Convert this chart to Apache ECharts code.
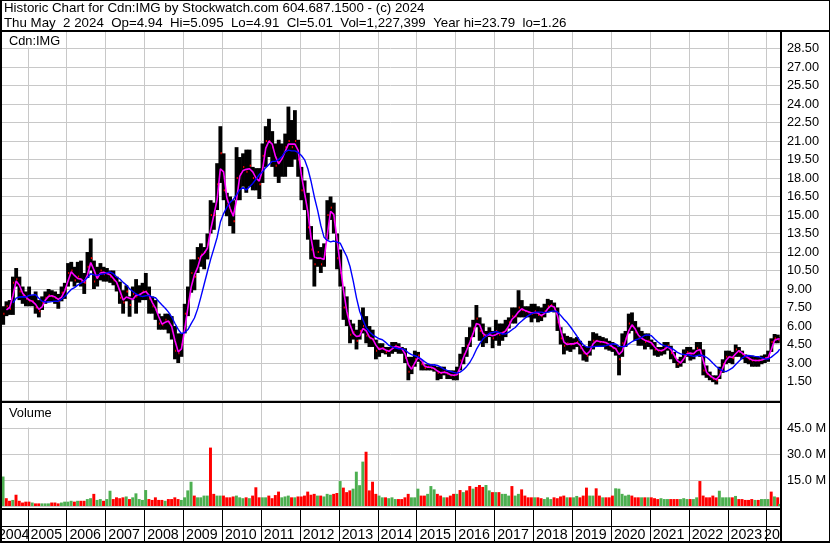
<!DOCTYPE html>
<html><head><meta charset="utf-8">
<script src="https://cdn.jsdelivr.net/npm/echarts@6/dist/echarts.min.js"></script>
<style>html,body{margin:0;padding:0;background:#fff}#c{width:830px;height:543px}</style>
</head><body><div id="c"></div>
<script>
// ---- data (monthly, May 2004 .. May 2 2024) ----
const startYear = 2004, startMonth = 5, lastDay = 2;
const years = [2004,2005,2006,2007,2008,2009,2010,2011,2012,2013,2014,2015,2016,2017,2018,2019,2020,2021,2022,2023,2024];
const high = [
 7.6,8.0,8.1,10.0,10.7,10.0,9.2,8.8,
 9.2,8.5,8.8,8.1,8.4,8.8,9.0,8.9,8.8,8.6,9.2,9.5,
 11.1,11.2,10.8,11.2,11.3,10.3,12.0,13.1,11.3,10.8,11.1,10.8,
 10.7,10.5,10.5,10.0,9.6,8.9,9.3,8.4,9.2,9.8,9.3,9.5,
 10.3,9.2,8.4,8.1,7.0,6.8,7.0,7.0,6.8,6.0,5.4,5.4,
 7.8,9.2,11.4,11.4,12.4,12.7,12.4,13.5,16.2,16.0,19.2,22.2,
 20.0,16.8,16.5,16.2,20.5,19.7,20.0,20.3,20.3,18.9,18.8,18.8,
 20.8,22.2,22.8,21.8,20.8,21.1,20.8,21.6,23.79,22.7,23.5,21.1,
 18.9,17.8,16.8,14.1,13.0,13.0,12.4,12.7,16.2,16.5,16.0,13.5,
 12.2,9.2,8.4,6.5,6.2,5.7,6.5,7.5,6.8,6.0,5.7,4.9,
 4.6,4.6,4.3,4.3,4.7,4.7,4.6,4.3,4.2,3.5,3.5,4.0,
 3.9,3.2,2.9,2.9,2.9,2.8,2.7,2.7,2.7,2.4,2.4,2.4,
 2.7,3.75,4.3,5.1,5.9,6.5,7.7,6.7,6.2,5.6,5.9,5.6,
 6.5,6.2,6.2,6.5,6.7,7.5,7.5,8.9,8.1,7.6,7.6,7.8,
 7.8,7.6,7.5,7.8,8.2,8.1,7.9,7.5,5.9,5.4,5.2,5.1,
 5.0,5.1,4.8,4.4,4.3,4.8,5.5,5.4,5.2,5.1,5.0,4.8,
 4.7,4.5,4.3,5.4,5.6,7.0,7.1,6.4,5.9,5.6,5.4,5.4,
 4.9,4.7,4.3,4.3,4.7,4.7,4.4,3.9,3.3,3.5,4.1,4.3,
 4.3,4.1,4.7,4.7,4.1,2.8,2.3,2.0,2.0,2.7,3.3,4.0,
 4.0,3.9,4.5,4.3,4.0,3.7,3.6,3.6,3.5,3.5,3.6,3.7,
 4.0,5.0,5.35,5.3,5.095
];
const low = [
 6.1,6.8,6.9,6.9,9.2,8.1,7.8,7.6,
 7.6,7.6,7.0,6.7,7.3,7.8,8.0,8.0,7.8,7.4,8.0,8.2,
 9.2,9.6,9.2,9.5,9.2,8.6,9.9,10.5,9.0,9.2,9.7,9.6,
 9.6,9.5,9.3,8.8,7.8,7.0,8.0,6.75,8.1,7.0,7.9,8.1,
 8.1,7.0,7.0,6.5,5.7,5.7,5.7,5.4,4.9,3.3,3.0,3.5,
 5.4,6.8,8.7,8.9,10.3,10.8,10.6,11.4,13.5,13.8,15.4,17.6,
 16.2,14.9,14.1,13.5,16.2,16.2,17.3,16.8,17.3,17.0,17.0,16.3,
 17.6,18.9,19.7,18.9,18.1,17.6,18.1,18.1,18.9,18.9,19.5,18.1,
 16.2,15.4,13.0,11.4,9.2,10.8,10.3,10.8,13.0,14.6,13.5,10.6,
 9.2,6.5,6.0,4.6,4.9,4.1,4.9,5.4,4.6,4.3,4.3,3.3,
 3.5,3.8,3.7,3.5,3.75,3.9,3.75,3.75,3.0,1.6,2.1,2.7,
 3.1,2.4,2.4,2.4,2.4,2.3,1.6,1.7,2.0,1.7,1.7,1.6,
 1.6,2.4,2.9,3.5,4.3,5.1,5.9,4.8,4.3,4.6,5.1,4.2,
 4.8,4.4,4.8,5.1,5.8,6.2,6.2,6.7,6.7,6.7,6.7,6.3,
 6.6,6.3,6.4,6.7,7.1,7.2,7.1,5.6,4.5,3.7,4.0,3.9,
 4.1,4.3,3.7,3.2,3.1,3.6,4.1,4.3,4.3,4.3,4.1,4.0,
 3.9,3.6,2.0,3.5,4.3,5.4,5.6,4.8,4.4,4.4,4.1,4.3,
 4.1,3.6,3.5,3.6,3.7,4.0,3.3,3.0,2.6,2.7,3.0,3.5,
 3.2,3.3,3.6,3.5,2.0,1.8,1.6,1.45,1.26,1.7,2.2,2.9,
 3.0,2.9,3.5,3.5,3.3,3.0,2.9,2.7,2.7,2.7,2.9,3.0,
 3.1,3.9,4.6,4.6,4.91
];
const close = [
 7.0,7.6,7.4,9.5,9.8,8.8,8.5,8.2,
 8.0,8.0,7.5,7.2,7.9,8.3,8.5,8.4,8.3,8.0,8.7,9.0,
 10.3,10.5,9.7,10.0,9.6,9.5,10.8,11.5,9.6,10.1,10.5,10.2,
 10.3,10.0,9.7,9.4,8.3,7.9,8.8,7.7,8.6,8.4,8.6,8.8,
 8.8,8.2,7.6,7.3,6.2,6.1,6.5,6.3,5.6,4.0,3.8,4.5,
 7.0,8.0,10.3,10.0,11.5,11.8,12.0,12.6,15.0,15.0,17.5,20.0,
 17.0,15.8,15.3,14.5,18.0,18.3,18.9,18.5,19.0,18.0,18.0,17.5,
 19.8,21.0,21.0,20.5,19.0,19.3,19.8,20.5,21.0,20.5,21.0,19.5,
 17.0,16.5,14.0,12.2,11.0,12.0,11.0,11.8,15.0,15.6,14.5,11.5,
 10.3,7.5,6.9,5.3,5.5,4.8,5.6,6.0,5.2,5.0,4.9,4.0,
 4.2,4.2,3.9,4.0,4.3,4.4,4.2,4.1,3.4,2.3,2.7,3.3,
 3.6,2.9,2.6,2.7,2.6,2.5,2.2,2.2,2.3,2.1,2.0,2.0,
 2.1,3.2,3.7,4.4,5.0,5.8,6.6,5.6,5.2,5.2,5.4,5.0,
 5.6,5.3,5.5,5.7,6.3,6.8,6.8,7.5,7.3,7.2,7.1,7.0,
 7.2,6.9,6.8,7.2,7.6,7.7,7.4,6.3,5.0,4.4,4.6,4.5,
 4.6,4.7,4.2,3.8,3.6,4.3,4.8,4.8,4.7,4.7,4.6,4.4,
 4.2,4.1,3.3,4.6,5.0,6.2,6.0,5.5,5.0,5.0,4.7,4.8,
 4.5,4.1,4.0,4.0,4.2,4.4,3.8,3.5,2.9,3.1,3.6,3.9,
 3.7,3.8,4.2,4.0,2.4,2.1,1.9,1.7,1.6,2.3,2.9,3.5,
 3.5,3.4,4.1,3.9,3.7,3.5,3.3,3.2,3.2,3.2,3.3,3.4,
 3.5,4.7,5.0,4.9,5.01
];
// volume, millions of shares
const volume = [
 17,4.5,3,3.5,6.5,3,2,2.5,
 2.5,2,1.5,1.5,1.5,1.5,1.5,2,2,1.5,2,2.5,
 2.5,3,2.5,3,3,3,4,4.5,7,3.5,4,3,
 4,8.8,4,5,4.5,5,5.5,4,5,7.3,4,3.5,
 9.2,4,3.5,5,3.5,3.5,3,4,4,5,4,3.5,
 5,9,14,6,5,5,6,6,33.7,7,6,6,
 6,5,5,5.5,6,5,4.5,5,4.5,6,10.8,5,
 5,5,6,4.5,6.3,8.3,5,5.5,6,5,5,5.5,
 5.5,6,8.3,6.5,7,6,6,5.5,7,6.5,7,7.5,
 14.4,10.6,8,9,10,19.8,12,25.6,31.3,9,14,7,
 6,5,5,4.5,5,4,4,4,5,7,5,5,
 10,6,6,7,11.5,9.6,7,6,5,5,6,7,
 7,9.2,8,9,11.5,10,11,12.1,11,12.1,9,8,
 8,8,7,7,6,11.5,6,7,9.6,6,5,5,
 5,5,4.5,4,5,4,5,4.5,5.5,6,5,5,
 5,5.8,5,6,10.6,6,6,10.2,6,5,5,5,
 6,10.2,10,7,6,6.5,6,5,5,5,5,5,
 5,4.5,4,4.5,4,4,4,4,4,4,4.5,4,
 4,4,5,14.4,6,5,5,6,5,8.8,5,5,
 5,5,5.8,4,4,3.5,3.5,4,3.5,3.5,4,4,
 4,8.3,5.5,5,1.2
];
// 1 = down (red) volume, 0 = up (green)
const volDown = [
 0,1,1,0,1,1,1,1,
 1,0,1,1,0,0,0,1,1,1,0,0,
 0,0,1,0,1,1,0,0,1,0,0,1,
 0,0,1,1,1,1,0,1,0,0,0,0,
 0,1,1,1,1,1,0,1,1,1,1,0,
 0,0,0,1,0,0,0,0,1,1,0,0,
 1,1,1,1,0,0,0,1,0,1,1,1,
 0,0,1,1,1,1,0,0,0,1,0,1,
 1,1,1,1,1,0,1,0,0,0,1,1,
 0,1,1,1,0,0,0,0,1,1,1,1,
 0,0,1,0,0,0,1,1,1,1,0,0,
 0,1,1,0,0,0,1,1,0,1,1,1,
 0,1,0,1,1,0,1,1,1,0,0,1,
 0,1,0,0,0,1,0,0,1,1,1,1,
 0,1,1,0,0,0,1,1,1,1,0,1,
 0,0,1,1,1,0,0,1,1,0,1,1,
 1,0,0,0,0,0,1,1,1,0,1,0,
 1,1,1,0,0,0,1,1,1,0,0,0,
 1,0,0,1,1,1,1,1,1,0,0,0,
 0,1,0,1,1,1,1,1,0,1,0,0,
 0,1,0,1,0
];
const titleLine1 = 'Historic Chart for Cdn:IMG by Stockwatch.com 604.687.1500 - (c) 2024';
const titleLine2 = 'Thu May  2 2024  Op=4.94  Hi=5.095  Lo=4.91  Cl=5.01  Vol=1,227,399  Year hi=23.79  lo=1.26';
const symbolLabel = 'Cdn:IMG';
const volumeLabel = 'Volume';

// ---- build ----
const n = Math.min(high.length, low.length, close.length, volume.length);
const m0 = startMonth - 1;             // month index, Jan 2004 = 0
const xOf = i => m0 + i + (i === n - 1 ? lastDay / 31 : 0.5);
const xMin = 3.82, xMax = 244.17;
function sma(arr, len, from) {
  const out = [];
  for (let i = 0; i < n; i++) {
    if (i < from) continue;
    const s = Math.max(0, i - len + 1);
    let sum = 0; for (let k = s; k <= i; k++) sum += arr[k];
    out.push([xOf(i), sum / (i - s + 1)]);
  }
  return out;
}
const bars = [], vols = [];
for (let i = 0; i < n; i++) {
  bars.push([xOf(i), high[i], low[i], close[i]]);
  vols.push([xOf(i), volume[i], volDown[i]]);
}
const fastMA = sma(close, 2, 1);
const slowMA = sma(close, 8, 3);
const yearData = years.map(y => [(y - startYear) * 12, y]);
const FAM = '"Liberation Sans", Arial, sans-serif';
const F_HEAD = '13.3px ' + FAM, F_LBL = '12.8px ' + FAM, F_YEAR = '14.2px ' + FAM;

const chart = echarts.init(document.getElementById('c'), null, {renderer: 'canvas'});
const gridLine = function (params, api) {
  const cs = params.coordSys;
  const xv = api.value(0);
  if (xv <= xMin) return null;
  const px = Math.round(api.coord([xv, 0])[0]) + 0.5;
  return {type: 'line', shape: {x1: px, y1: cs.y, x2: px, y2: cs.y + cs.height},
    style: {stroke: '#c8c8c8', lineWidth: 1}};
};
chart.setOption({
  animation: false,
  backgroundColor: '#fff',
  grid: [
    {left: 1, right: 50, top: 30, height: 370},
    {left: 1, right: 50, top: 402, height: 104}
  ],
  xAxis: [
    {type: 'value', gridIndex: 0, min: xMin, max: xMax, show: false},
    {type: 'value', gridIndex: 1, min: xMin, max: xMax, show: false}
  ],
  yAxis: [
    {type: 'value', gridIndex: 0, position: 'right', min: 0, max: 30, interval: 1.5,
     axisLine: {show: false}, axisTick: {show: false},
     axisLabel: {margin: 7, color: '#000', fontFamily: FAM, fontSize: 12.8,
       formatter: v => (v <= 0 || v >= 30) ? '' : v.toFixed(2)},
     splitLine: {show: true, lineStyle: {color: '#c8c8c8', width: 1}}},
    {type: 'value', gridIndex: 1, position: 'right', min: 0, max: 60, interval: 15,
     axisLine: {show: false}, axisTick: {show: false},
     axisLabel: {margin: 7, color: '#000', fontFamily: FAM, fontSize: 12.8,
       formatter: v => (v <= 0 || v >= 60) ? '' : v.toFixed(1) + ' M'},
     splitLine: {show: true, lineStyle: {color: '#c8c8c8', width: 1}}}
  ],
  series: [
    {type: 'custom', name: 'ygrid0', xAxisIndex: 0, yAxisIndex: 0, z: 1, silent: true,
     data: yearData, renderItem: gridLine},
    {type: 'custom', name: 'ygrid1', xAxisIndex: 1, yAxisIndex: 1, z: 1, silent: true,
     data: yearData, renderItem: gridLine},
    {type: 'custom', name: 'yearAxis', xAxisIndex: 1, yAxisIndex: 1, z: 5, silent: true, clip: false,
     data: yearData,
     renderItem: function (params, api) {
       const cs = params.coordSys;
       const xv = api.value(0);
       const x0 = api.coord([xv, 0])[0];
       const bottom = cs.y + cs.height;
       const right = cs.x + cs.width;
       const children = [];
       let tx, align = 'left';
       if (xv > xMin) {
         const px = Math.round(x0) + 0.5;
         children.push({type: 'line', shape: {x1: px, y1: bottom + 3, x2: px, y2: bottom + 36},
           style: {stroke: '#000', lineWidth: 1}});
         tx = Math.min(x0 + 3, right - 16);
       } else {
         tx = api.coord([xv + 12, 0])[0] + 2;
         align = 'right';
       }
       children.push({type: 'text', x: tx, y: bottom + 29,
         style: {text: String(api.value(1)), fill: '#000', font: F_YEAR, verticalAlign: 'middle', align: align}});
       return {type: 'group', children: children};
     }},
    {type: 'custom', name: 'price', xAxisIndex: 0, yAxisIndex: 0, z: 3, silent: true,
     encode: {x: 0, y: [1, 2, 3]},
     data: bars,
     renderItem: function (params, api) {
       const xv = api.value(0);
       const pH = api.coord([xv, api.value(1)]);
       const pL = api.coord([xv, api.value(2)]);
       const pC = api.coord([xv, api.value(3)]);
       const w = api.size([1, 0])[0];
       const left = pH[0] - w / 2;
       return {type: 'group', children: [
         {type: 'rect', shape: {x: left - 0.3, y: pH[1], width: w + 0.6, height: Math.max(1, pL[1] - pH[1])},
          style: {fill: '#000'}},
         {type: 'rect', shape: {x: left + w - 1.5, y: pC[1] - 1, width: 1.5, height: 2},
          style: {fill: '#ff0000'}}
       ]};
     }},
    {type: 'line', name: 'fast', xAxisIndex: 0, yAxisIndex: 0, z: 6, data: fastMA, showSymbol: false,
     lineStyle: {color: '#ff00ff', width: 1.6}, silent: true},
    {type: 'line', name: 'slow', xAxisIndex: 0, yAxisIndex: 0, z: 7, data: slowMA, showSymbol: false,
     lineStyle: {color: '#0000ff', width: 1.4}, silent: true},
    {type: 'custom', name: 'volume', xAxisIndex: 1, yAxisIndex: 1, z: 3, silent: true,
     encode: {x: 0, y: 1},
     data: vols,
     renderItem: function (params, api) {
       const xv = api.value(0);
       const pT = api.coord([xv, api.value(1)]);
       const pB = api.coord([xv, 0]);
       const w = api.size([1, 0])[0];
       return {type: 'rect', shape: {x: pT[0] - w / 2, y: pT[1], width: w - 0.3, height: pB[1] - pT[1]},
         style: {fill: api.value(2) ? '#ff0000' : '#4caf50'}};
     }}
  ],
  graphic: [
    {type: 'text', x: 4, y: 8.5, z: 100, style: {text: titleLine1, font: F_HEAD, fill: '#000', verticalAlign: 'middle'}},
    {type: 'text', x: 4, y: 23, z: 100, style: {text: titleLine2, font: F_HEAD, fill: '#000', verticalAlign: 'middle'}},
    {type: 'rect', z: 90, shape: {x: 2, y: 32, width: 62, height: 15.5}, style: {fill: '#fff'}},
    {type: 'text', x: 9, y: 41.5, z: 100, style: {text: symbolLabel, font: F_LBL, fill: '#000', verticalAlign: 'middle'}},
    {type: 'rect', z: 90, shape: {x: 2, y: 403, width: 62, height: 24.5}, style: {fill: '#fff'}},
    {type: 'text', x: 9, y: 413.5, z: 100, style: {text: volumeLabel, font: F_LBL, fill: '#000', verticalAlign: 'middle'}},
    {type: 'rect', z: 95, shape: {x: 782, y: 509, width: 48, height: 34}, style: {fill: '#fff'}},
    {type: 'rect', z: 99, shape: {x: 0, y: 30, width: 830, height: 2}, style: {fill: '#000'}},
    {type: 'rect', z: 99, shape: {x: 0, y: 401, width: 782, height: 2}, style: {fill: '#000'}},
    {type: 'rect', z: 99, shape: {x: 0, y: 508, width: 782, height: 2}, style: {fill: '#000'}},
    {type: 'rect', z: 99, shape: {x: 0, y: 526, width: 782, height: 1}, style: {fill: '#000'}},
    {type: 'rect', z: 99, shape: {x: 780, y: 30, width: 2, height: 513}, style: {fill: '#000'}},
    {type: 'rect', z: 99, shape: {x: 0, y: 0, width: 830, height: 1}, style: {fill: '#000'}},
    {type: 'rect', z: 99, shape: {x: 0, y: 0, width: 2, height: 543}, style: {fill: '#000'}},
    {type: 'rect', z: 99, shape: {x: 829, y: 0, width: 1, height: 543}, style: {fill: '#000'}},
    {type: 'rect', z: 99, shape: {x: 0, y: 541, width: 830, height: 2}, style: {fill: '#000'}}
  ]
});
</script>
</body></html>
